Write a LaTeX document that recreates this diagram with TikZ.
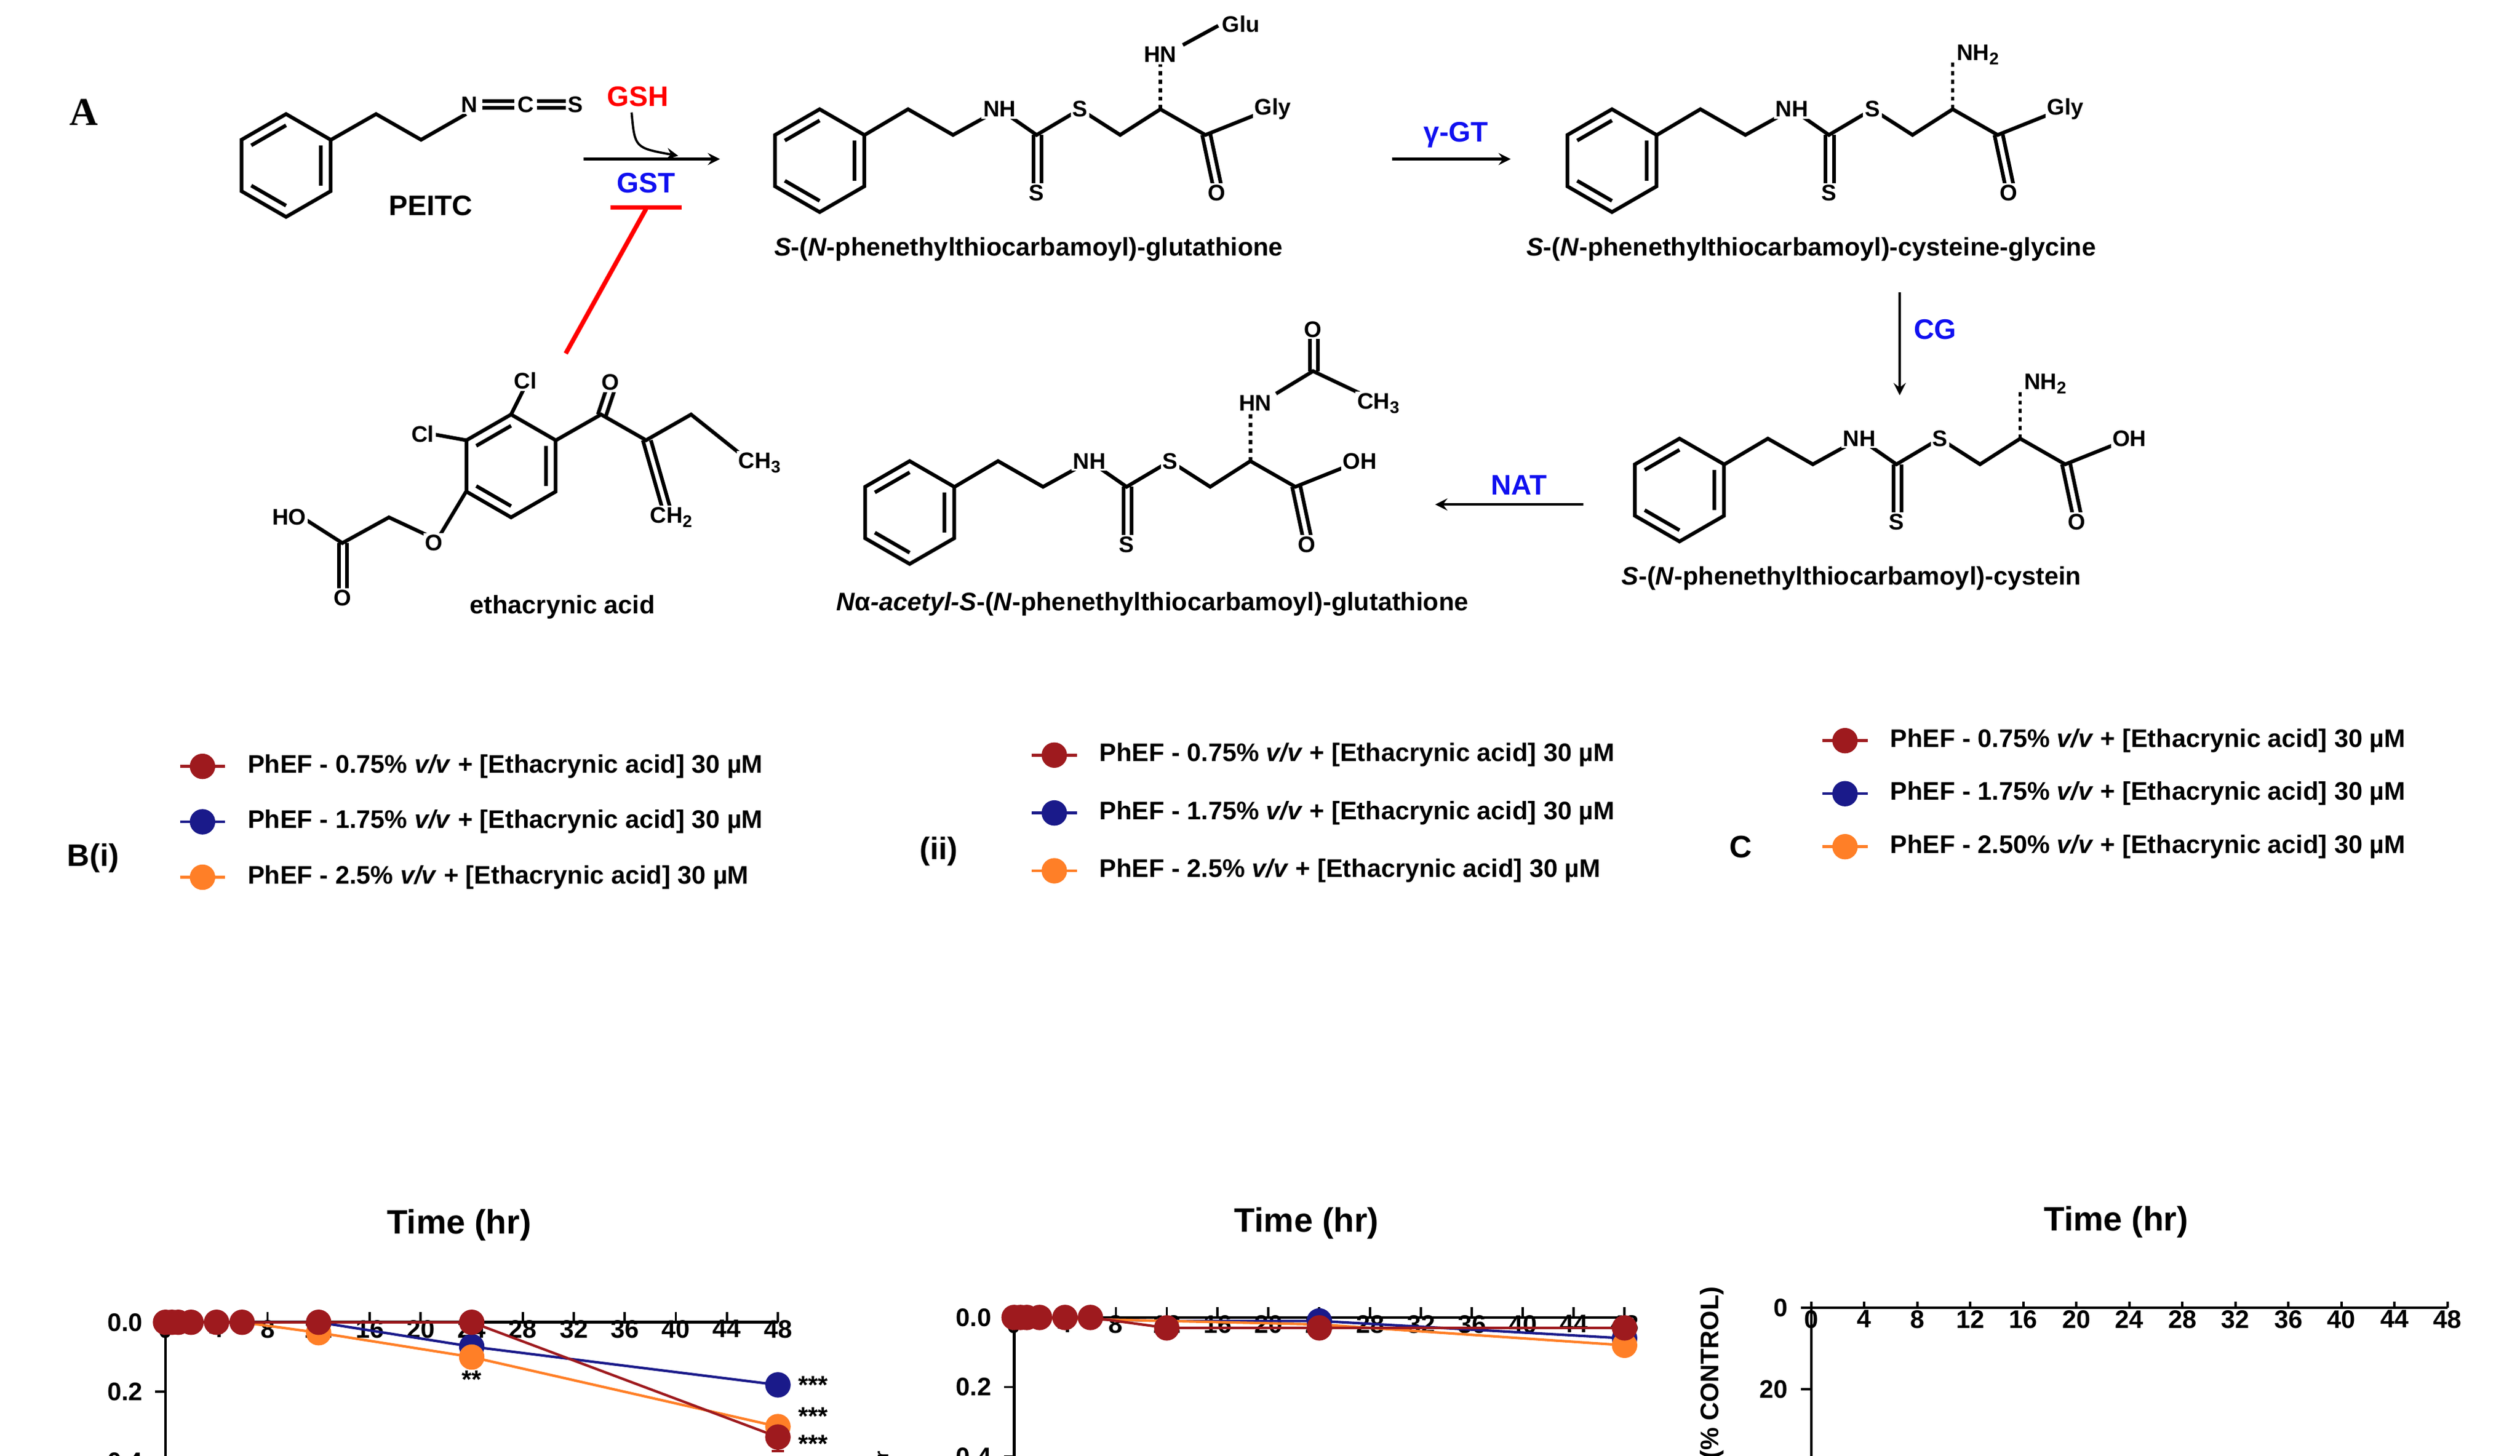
\documentclass[tikz,border=0pt]{standalone}
\usepackage{fontspec}
\setmainfont{Liberation Sans}
\newfontfamily\serifA{Liberation Serif}
\definecolor{dred}{HTML}{9E1A1E}
\definecolor{dblue}{HTML}{1A1A8A}
\definecolor{orng}{HTML}{FF7F27}
\definecolor{labblue}{HTML}{1010F0}
\tikzset{
 atm/.style={fill=white,inner sep=0.6pt,font=\fontsize{8}{9}\selectfont\bfseries},
 bond/.style={line width=1.3pt},
 captx/.style={font=\fontsize{9}{11}\selectfont\bfseries},
 enz/.style={font=\fontsize{10}{12}\selectfont\bfseries,text=labblue},
 rx/.style={line width=0.9pt,-stealth},
 ticklab/.style={font=\fontsize{9}{10}\selectfont\bfseries},
 leg/.style={font=\fontsize{9}{10}\selectfont\bfseries,anchor=west},
 dotm/.style={circle,inner sep=0pt,minimum size=9pt},
}
\newcommand\benz[2]{%
 \draw[bond] (#1,#2) +(30:32) -- +(90:32) -- +(150:32) -- +(210:32) -- +(270:32) -- +(330:32) -- cycle;
 \draw[bond] (#1,#2) +(90:25) -- +(150:25) +(210:25) -- +(270:25) +(330:25) -- +(30:25);}
\newcommand\conjbase{%
 \benz{0}{0}
 \draw[bond] (28,-16) -- (55,-32) -- (83,-16) -- (112,-32) -- (135,-16) -- (162,-32) -- (187,-16) -- (212,-32) -- (240,-16) -- (280,-32);
 \draw[bond] (133,-16) -- (133,17) (138,-16) -- (138,17);
 \draw[bond] (238,-16) -- (245,17) (243,-17) -- (250,16);
 \draw[line width=1.2pt,dash pattern=on 1.5pt off 1.5pt] (212,-32) -- (212,-62);
 \node[atm] (nh) at (112,-32) {NH};
 \node[atm] (s1) at (162,-32) {S};
 \node[atm] (s2) at (135,20) {S};
 \node[atm] (o1) at (247,20) {O};}
\begin{document}
\begin{tikzpicture}[x=0.02cm,y=-0.02cm]
\useasboundingbox (0,0) rectangle (1568,906);
\node[font=\serifA\fontsize{14}{16}\selectfont\bfseries] (A) at (52,70) {A};
% PEITC
\benz{178}{103}
\draw[bond] (206,87) -- (234,71) -- (262,87) -- (290,71);
\node[atm] (n) at (292,65) {N};
\draw[bond] (300,63)--(320,63) (300,67)--(320,67) (334,63)--(352,63) (334,67)--(352,67);
\node[atm] (c) at (327,65) {C};
\node[atm] (s) at (358,65) {S};
\node[font=\fontsize{10}{12}\selectfont\bfseries] (peitc) at (268,128) {PEITC};
\coordinate (a1s) at (363,99); \coordinate (a1e) at (448,99);
\draw[rx] (a1s) -- (a1e);
\node[font=\fontsize{10}{12}\selectfont\bfseries,text=red] (gsh) at (397,60) {GSH};
\draw[line width=0.8pt,-stealth] (393,70) .. controls (395,92) .. (422,97);
\node[enz] (gst) at (402,114) {GST};
\coordinate (tb1) at (380,129); \coordinate (tb2) at (424,129);
\draw[red,line width=1.6pt] (tb1) -- (tb2);
\coordinate (tbm) at (402,130); \coordinate (eaend) at (352,220);
\draw[red,line width=1.6pt] (tbm) -- (eaend);
% compound 2
\begin{scope}[shift={(510,100)}]
\conjbase
\node[atm] (hn) at (212,-66) {HN};
\draw[bond] (226,-72) -- (248,-84);
\node[atm] (glu) at (262,-85) {Glu};
\node[atm] (gly) at (282,-32) {Gly};
\end{scope}
\node[captx] (l2) at (640,155) {\textit{S}-(\textit{N}-phenethylthiocarbamoyl)-glutathione};
\coordinate (g1) at (866,99); \coordinate (g2) at (940,99);
\draw[rx] (g1) -- (g2);
\node[enz] (ggt) at (906,84) {γ-GT};
% compound 3
\begin{scope}[shift={(1003,100)}]
\conjbase
\node[atm] (nh2) at (228,-66) {NH$_\mathbf{2}$};
\node[atm] (gly2) at (282,-32) {Gly};
\end{scope}
\node[captx] (l3) at (1127,155) {\textit{S}-(\textit{N}-phenethylthiocarbamoyl)-cysteine-glycine};
\coordinate (cg1) at (1182,182); \coordinate (cg2) at (1182,246);
\draw[rx] (cg1) -- (cg2);
\node[enz] (cg) at (1204,205) {CG};
% compound 4
\begin{scope}[shift={(1045,305)}]
\conjbase
\node[atm] (nh3) at (228,-66) {NH$_\mathbf{2}$};
\node[atm] (oh) at (280,-32) {OH};
\end{scope}
\node[captx] (l4) at (1152,360) {\textit{S}-(\textit{N}-phenethylthiocarbamoyl)-cystein};
\coordinate (nt1) at (985,314); \coordinate (nt2) at (893,314);
\draw[rx] (nt1) -- (nt2);
\node[enz] (nat) at (945,302) {NAT};
% compound 5
\begin{scope}[shift={(566,319)}]
\conjbase
\node[atm] (hn5) at (215,-68) {HN};
\draw[bond] (228,-74) -- (251,-88) -- (289,-70);
\draw[bond] (249,-88) -- (249,-112) (254,-88) -- (254,-112);
\node[atm] (o5) at (251,-114) {O};
\node[atm] (ch3) at (292,-68) {CH$_\mathbf{3}$};
\node[atm] (oh5) at (280,-32) {OH};
\end{scope}
\node[captx] (l5) at (717,376) {\textit{N}α\textit{-acetyl-S}-(\textit{N}-phenethylthiocarbamoyl)-glutathione};
% ethacrynic acid
\benz{318}{290}
\draw[bond] (318,258) -- (327,240);
\node[atm] (cl1) at (327,237) {Cl};
\draw[bond] (290,274) -- (268,270);
\node[atm] (cl2) at (263,270) {Cl};
\draw[bond] (346,274) -- (374,258) -- (402,274) -- (430,258) -- (460,282);
\draw[bond] (372,258) -- (378,240) (377,259) -- (383,241);
\node[atm] (oe) at (380,238) {O};
\draw[bond] (400,274) -- (412,316) (405,274) -- (417,316);
\node[atm] (ch3e) at (473,288) {CH$_\mathbf{3}$};
\node[atm] (ch2e) at (418,322) {CH$_\mathbf{2}$};
\draw[bond] (290,306) -- (272,336) -- (242,322) -- (213,338) -- (188,322);
\draw[bond] (211,338) -- (211,368) (216,338) -- (216,368);
\node[atm] (oeth) at (270,338) {O};
\node[atm] (o2e) at (213,372) {O};
\node[atm] (ho) at (180,322) {HO};
\node[captx] (lea) at (350,378) {ethacrynic acid};
% ================= Plot B(i)
\node[font=\fontsize{11}{13}\selectfont\bfseries] (bi) at (58,534) {B(i)};
\foreach \i/\c/\t in {0/dred/0.75\% \textit{v/v} + [Ethacrynic acid] 30 µM,1/dblue/1.75\% \textit{v/v} + [Ethacrynic acid] 30 µM,2/orng/2.5\% \textit{v/v} + [Ethacrynic acid] 30 µM}{
 \draw[\c,line width=1pt] (112,{477+34.5*\i}) -- (140,{477+34.5*\i});
 \node[dotm,fill=\c] at (126,{477+34.5*\i}) {};
 \node[leg] at (148,{477+34.5*\i}) {PhEF - \t};}
\begin{scope}[shift={(103,823)},x=0.1588cm,y=-4.33cm]
\draw[line width=1pt] (0,2) -- (0,0) -- (48,0);
\foreach \v in {0.0,0.2,0.4,0.6,0.8,1.0,1.2,1.4,1.6,1.8,2.0}{\draw[line width=0.8pt] (0,\v) -- (-0.8,\v); \node[ticklab,anchor=east] at (-1,\v) {\v};}
\foreach \t in {0,4,...,48}{\draw[line width=0.8pt] (\t,0) -- (\t,-0.03); \node[ticklab,anchor=north] at (\t,-0.035) {\t};}
\draw[dblue,line width=0.9pt] (0,0)--(12,0)--(24,0.07)--(48,0.18);
\draw[orng,line width=0.9pt] (0,0)--(6,0)--(12,0.03)--(24,0.1)--(48,0.3);
\draw[dred,line width=0.9pt] (0,0)--(24,0)--(48,0.33);
\draw[dred,line width=0.8pt] (48,0.29)--(48,0.37) (47.5,0.37)--(48.5,0.37);
\foreach \x/\y in {24/0.07,48/0.18}{\node[dotm,fill=dblue] at (\x,\y) {};}
\foreach \x/\y in {12/0.03,24/0.1,48/0.3}{\node[dotm,fill=orng] at (\x,\y) {};}
\foreach \x/\y in {0/0,0.5/0,1/0,2/0,4/0,6/0,12/0,24/0,48/0.33}{\node[dotm,fill=dred] at (\x,\y) {};}
\node[ticklab] at (24,0.165) {**};
\node[ticklab,anchor=west] at (48.8,0.35) {***};
\node[ticklab,anchor=west] at (48.8,0.27) {***};
\node[ticklab,anchor=west] at (48.8,0.18) {***};
\node[font=\fontsize{12}{14}\selectfont\bfseries] at (23,-0.28) {Time (hr)};
\node[rotate=90,align=center,font=\fontsize{10}{12}\selectfont\bfseries] at (-9.5,1.0) {[PEITC-NAC conjugate]$_\mathbf{intracellular}$\\(nmol/10$^\mathbf{6}$cells)};
\end{scope}
% ================= Plot B(ii)
\node[font=\fontsize{11}{13}\selectfont\bfseries] (bii) at (584,530) {(ii)};
\foreach \i/\c/\t in {0/dred/0.75\% \textit{v/v} + [Ethacrynic acid] 30 µM,1/dblue/1.75\% \textit{v/v} + [Ethacrynic acid] 30 µM,2/orng/2.5\% \textit{v/v} + [Ethacrynic acid] 30 µM}{
 \draw[\c,line width=1pt] (642,{470+36*\i}) -- (670,{470+36*\i});
 \node[dotm,fill=\c] at (656,{470+36*\i}) {};
 \node[leg] at (678,{470+36*\i}) {PhEF - \t};}
\begin{scope}[shift={(631,820)},x=0.1583cm,y=-4.33cm]
\draw[line width=1pt] (0,2) -- (0,0) -- (48,0);
\foreach \v in {0.0,0.2,0.4,0.6,0.8,1.0,1.2,1.4,1.6,1.8,2.0}{\draw[line width=0.8pt] (0,\v) -- (-0.8,\v); \node[ticklab,anchor=east] at (-1,\v) {\v};}
\foreach \t in {0,4,...,48}{\draw[line width=0.8pt] (\t,0) -- (\t,-0.03); \node[ticklab,anchor=north] at (\t,-0.035) {\t};}
\draw[dblue,line width=0.9pt] (0,0)--(12,0.01)--(24,0.01)--(48,0.06);
\draw[orng,line width=0.9pt] (0,0)--(12,0.01)--(24,0.02)--(48,0.08);
\draw[dred,line width=0.9pt] (0,0)--(6,0)--(12,0.03)--(24,0.03)--(48,0.03);
\foreach \x/\y in {24/0.01,48/0.06}{\node[dotm,fill=dblue] at (\x,\y) {};}
\foreach \x/\y in {48/0.08}{\node[dotm,fill=orng] at (\x,\y) {};}
\foreach \x/\y in {0/0,0.5/0,1/0,2/0,4/0,6/0,12/0.03,24/0.03,48/0.03}{\node[dotm,fill=dred] at (\x,\y) {};}
\node[font=\fontsize{12}{14}\selectfont\bfseries] at (23,-0.27) {Time (hr)};
\node[rotate=90,align=center,font=\fontsize{10}{12}\selectfont\bfseries] at (-9.5,1.0) {[PEITC-NAC conjugate]$_\mathbf{extracellular}$\\(nmol/10$^\mathbf{6}$cells)};
\end{scope}
% ================= Plot C
\node[font=\fontsize{11}{13}\selectfont\bfseries] (cc) at (1083,527) {C};
\foreach \i/\c/\t in {0/dred/0.75\% \textit{v/v} + [Ethacrynic acid] 30 µM,1/dblue/1.75\% \textit{v/v} + [Ethacrynic acid] 30 µM,2/orng/2.50\% \textit{v/v} + [Ethacrynic acid] 30 µM}{
 \draw[\c,line width=1pt] (1134,{461+33*\i}) -- (1162,{461+33*\i});
 \node[dotm,fill=\c] at (1148,{461+33*\i}) {};
 \node[leg] at (1170,{461+33*\i}) {PhEF - \t};}
\begin{scope}[shift={(1127,814)},x=0.165cm,y=-0.0508cm]
\draw[line width=1pt] (0,100) -- (0,0) -- (48,0);
\foreach \v in {0,20,...,100}{\draw[line width=0.8pt] (0,\v) -- (-0.8,\v); \node[ticklab,anchor=east] at (-1,\v) {\v};}
\foreach \t in {0,4,...,48}{\draw[line width=0.8pt] (\t,0) -- (\t,-1.5); \node[ticklab,anchor=north] at (\t,-1.8) {\t};}
\draw[orng,line width=0.9pt] (0,100)--(4,100)--(6,97)--(12,88)--(24,93)--(48,88);
\draw[dblue,line width=0.9pt] (0,100)--(4,100)--(6,100)--(12,93.5)--(24,93.5)--(48,90.5);
\draw[dred,line width=0.9pt] (0,100)--(4,100)--(6,97)--(12,99)--(24,98)--(48,97.2);
\draw[dred,line width=0.8pt] (6,93.5)--(6,100) (5.6,93.5)--(6.4,93.5);
\draw[orng,line width=0.8pt] (12,85.5)--(12,90) (11.6,85.5)--(12.4,85.5);
\foreach \x/\y in {12/88,24/93,48/88}{\node[dotm,fill=orng] at (\x,\y) {};}
\foreach \x/\y in {6/100,12/93.5,24/93.5,48/90.5}{\node[dotm,fill=dblue] at (\x,\y) {};}
\foreach \x/\y in {0/100,0.5/100,1/100,2/100,4/100,6/97,12/99,24/98,48/97.2}{\node[dotm,fill=dred] at (\x,\y) {};}
\node[ticklab,anchor=west] at (12.8,93) {**};
\node[ticklab,anchor=west] at (12.8,83.5) {**};
\node[ticklab,anchor=west] at (24.8,93.5) {**};
\node[ticklab,anchor=west] at (24.8,86) {**};
\node[ticklab,anchor=west] at (48.8,90.5) {**};
\node[ticklab,anchor=west] at (48.8,86) {**};
\node[font=\fontsize{12}{14}\selectfont\bfseries] at (23,-21) {Time (hr)};
\node[rotate=90,font=\fontsize{9}{11}\selectfont\bfseries] at (-7.5,50) {[GSH] (mM/mg protein)(\% CONTROL)};
\end{scope}
\end{tikzpicture}
\end{document}
